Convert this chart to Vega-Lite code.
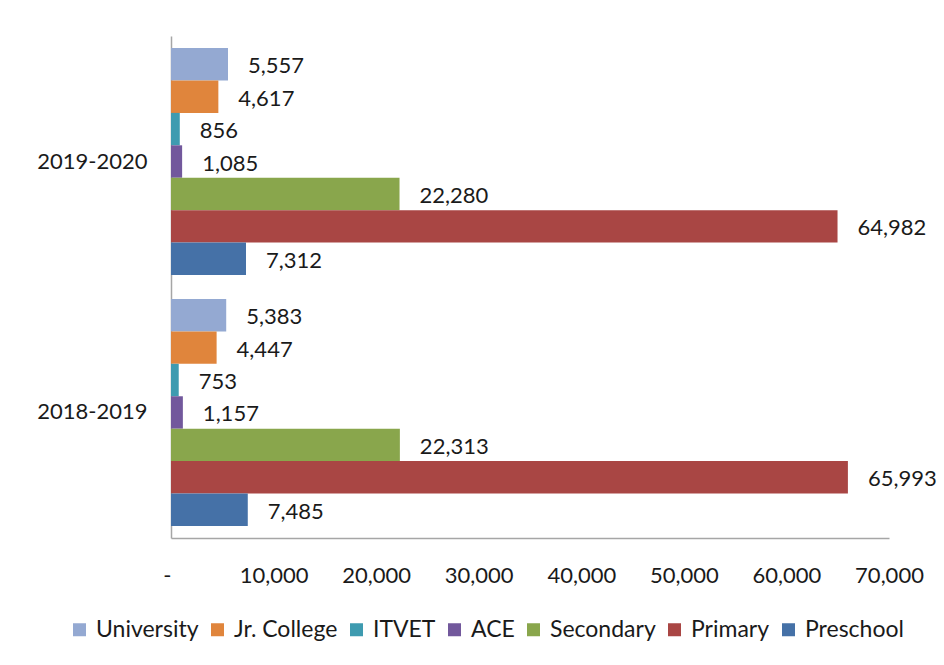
{
  "$schema": "https://vega.github.io/schema/vega-lite/v6.json",
  "width": 718,
  "height": 502,
  "autosize": "none",
  "padding": {"left": 171, "top": 36, "right": 55, "bottom": 127},
  "background": "white",
  "config": {
    "view": {"stroke": null},
    "font": "Lato",
    "text": {"font": "Lato"}
  },
  "data": {
    "values": [
      {"year": "2019-2020", "category": "University", "value": 5557},
      {"year": "2019-2020", "category": "Jr. College", "value": 4617},
      {"year": "2019-2020", "category": "ITVET", "value": 856},
      {"year": "2019-2020", "category": "ACE", "value": 1085},
      {"year": "2019-2020", "category": "Secondary", "value": 22280},
      {"year": "2019-2020", "category": "Primary", "value": 64982},
      {"year": "2019-2020", "category": "Preschool", "value": 7312},
      {"year": "2018-2019", "category": "University", "value": 5383},
      {"year": "2018-2019", "category": "Jr. College", "value": 4447},
      {"year": "2018-2019", "category": "ITVET", "value": 753},
      {"year": "2018-2019", "category": "ACE", "value": 1157},
      {"year": "2018-2019", "category": "Secondary", "value": 22313},
      {"year": "2018-2019", "category": "Primary", "value": 65993},
      {"year": "2018-2019", "category": "Preschool", "value": 7485}
    ]
  },
  "encoding": {
    "y": {
      "field": "year",
      "type": "nominal",
      "sort": ["2019-2020", "2018-2019"],
      "scale": {"paddingInner": 0.0956, "paddingOuter": 0.048},
      "axis": {
        "title": null,
        "ticks": false,
        "domainColor": "#a6a6a6",
        "domainWidth": 1.5,
        "labelFont": "Lato",
        "labelFontSize": 22,
        "labelColor": "#1a1a1a",
        "labelPadding": 24
      }
    },
    "yOffset": {
      "field": "category",
      "type": "nominal",
      "sort": ["University", "Jr. College", "ITVET", "ACE", "Secondary", "Primary", "Preschool"],
      "scale": {"paddingInner": 0, "paddingOuter": 0}
    },
    "x": {
      "field": "value",
      "type": "quantitative",
      "scale": {"domain": [0, 70000], "nice": false},
      "axis": {
        "title": null,
        "ticks": false,
        "grid": false,
        "values": [0, 10000, 20000, 30000, 40000, 50000, 60000, 70000],
        "labelExpr": "datum.value === 0 ? '-' : format(datum.value, ',')",
        "labelAlign": {"condition": {"test": "datum.value === 0", "value": "right"}, "value": "center"},
        "labelFlush": false,
        "domainColor": "#a6a6a6",
        "domainWidth": 1.5,
        "labelFont": "Lato",
        "labelFontSize": 22,
        "labelColor": "#1a1a1a",
        "labelPadding": 27
      }
    }
  },
  "layer": [
    {
      "mark": {"type": "bar"},
      "encoding": {
        "color": {
          "field": "category",
          "type": "nominal",
          "sort": ["University", "Jr. College", "ITVET", "ACE", "Secondary", "Primary", "Preschool"],
          "scale": {
            "domain": ["University", "Jr. College", "ITVET", "ACE", "Secondary", "Primary", "Preschool"],
            "range": ["#94A9D2", "#E0853C", "#3E9BB0", "#72589C", "#89A64C", "#A94644", "#4571A7"]
          },
          "legend": {
            "title": null,
            "orient": "none",
            "direction": "horizontal",
            "legendX": -103,
            "legendY": 582,
            "symbolType": "square",
            "symbolSize": 169,
            "symbolStrokeWidth": 0,
            "labelFont": "Lato",
            "labelFontSize": 23,
            "labelColor": "#1a1a1a",
            "labelOffset": 5,
            "columnPadding": 7,
            "labelLimit": 300
          }
        }
      }
    },
    {
      "mark": {"type": "text", "align": "left", "baseline": "middle", "dx": 20, "dy": 2, "fontSize": 22, "font": "Lato", "color": "#1a1a1a"},
      "encoding": {
        "text": {"field": "value", "type": "quantitative", "format": ","}
      }
    }
  ]
}
